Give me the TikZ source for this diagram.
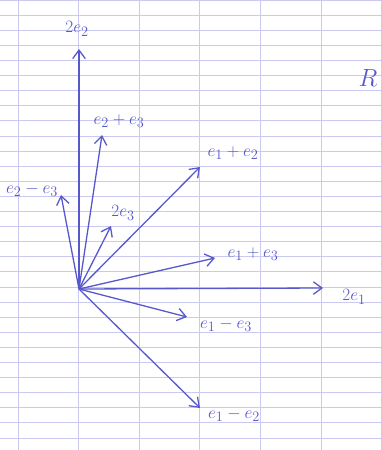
\documentclass[tikz,border=0pt]{standalone}
\usetikzlibrary{arrows.meta}
\definecolor{penblue}{RGB}{88,88,205}
\definecolor{gridblue}{RGB}{202,202,240}
\tikzset{
  vec arrow/.style={-{Straight Barb[length=3mm,width=4.4mm]},penblue,line width=1.3pt},
  vec label/.style={text=penblue,font=\fontsize{19}{23}\selectfont,inner sep=1pt},
  grid line/.style={gridblue,line width=0.9pt},
}

\begin{document}
\begin{tikzpicture}[x=1pt,y=-1pt]
  \useasboundingbox (0,0) rectangle (382,450);
  \fill[white] (0,0) rectangle (382,450);
  % squared paper
  \foreach \j in {-19,...,10}
    \draw[grid line] (0,287+15.1*\j) -- (382,287+15.1*\j);
  \foreach \i in {0,...,6}
    \draw[grid line] (18+60.6*\i,0) -- (18+60.6*\i,450);
  % origin and tips
  \coordinate (o) at (79,289);
  \coordinate (t2e2) at (79,49);
  \coordinate (te2pe3) at (102,135);
  \coordinate (te1pe2) at (200,167);
  \coordinate (te2me3) at (61,195);
  \coordinate (t2e3) at (111,226);
  \coordinate (te1pe3) at (215,258);
  \coordinate (t2e1) at (323,288);
  \coordinate (te1me3) at (187,317);
  \coordinate (te1me2) at (200,408);
  % labels
  \node[vec label] (l2e2) at (77,29) {$2e_2$};
  \node[vec label] (le2pe3) at (119,121) {$e_2+e_3$};
  \node[vec label] (le1pe2) at (233,153) {$e_1+e_2$};
  \node[vec label] (le2me3) at (32,190) {$e_2-e_3$};
  \node[vec label] (l2e3) at (123,213) {$2e_3$};
  \node[vec label] (le1pe3) at (253,254) {$e_1+e_3$};
  \node[vec label] (l2e1) at (354,297) {$2e_1$};
  \node[vec label] (le1me3) at (226,325) {$e_1-e_3$};
  \node[vec label] (le1me2) at (234,415) {$e_1-e_2$};
  \node[vec label,font=\Huge] (lr) at (368,78) {$R$};
  % vectors
  \draw[vec arrow] (o) -- (t2e2);
  \draw[vec arrow] (o) -- (te2pe3);
  \draw[vec arrow] (o) -- (te1pe2);
  \draw[vec arrow] (o) -- (te2me3);
  \draw[vec arrow] (o) -- (t2e3);
  \draw[vec arrow] (o) -- (te1pe3);
  \draw[vec arrow] (o) -- (t2e1);
  \draw[vec arrow] (o) -- (te1me3);
  \draw[vec arrow] (o) -- (te1me2);
\end{tikzpicture}
\end{document}
